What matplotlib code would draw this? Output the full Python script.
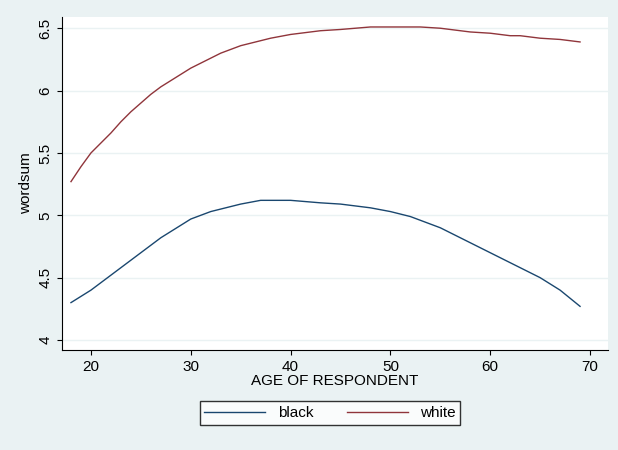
import matplotlib
matplotlib.use("Agg")
import matplotlib.pyplot as plt
plt.rcParams['font.family'] = ['Liberation Sans', 'DejaVu Sans']

ages = [18, 19, 20, 21, 22, 23, 24, 25, 26, 27, 28, 29, 30, 32, 33, 35, 37, 38, 40, 43, 45, 48, 50, 52, 53, 55, 57, 58, 60, 62, 63, 65, 67, 69]
black = [4.30, 4.35, 4.40, 4.46, 4.52, 4.58, 4.64, 4.70, 4.76, 4.82, 4.87, 4.92, 4.97, 5.03, 5.05, 5.09, 5.12, 5.12, 5.12, 5.10, 5.09, 5.06, 5.03, 4.99, 4.96, 4.90, 4.82, 4.78, 4.70, 4.62, 4.58, 4.50, 4.40, 4.27]
white = [5.27, 5.39, 5.50, 5.58, 5.66, 5.75, 5.83, 5.90, 5.97, 6.03, 6.08, 6.13, 6.18, 6.26, 6.30, 6.36, 6.40, 6.42, 6.45, 6.48, 6.49, 6.51, 6.51, 6.51, 6.51, 6.50, 6.48, 6.47, 6.46, 6.44, 6.44, 6.42, 6.41, 6.39]
xticks = [20, 30, 40, 50, 60, 70]
yticks = [4, 4.5, 5, 5.5, 6, 6.5]
ylabels = ["4", "4.5", "5", "5.5", "6", "6.5"]

bg = "#EAF2F3"
fig = plt.figure(figsize=(6.18, 4.5), dpi=100, facecolor=bg)
ax = fig.add_axes([62/618, 1-350/450, 546/618, 333/450])
ax.plot(ages, black, color="#1A476F", lw=1, label="black")
ax.plot(ages, white, color="#90353B", lw=1, label="white")
ax.set_xlim(17.1, 71.8)
ax.set_ylim(3.92, 6.59)
ax.set_xticks(xticks)
ax.set_yticks(yticks)
ax.set_yticklabels(ylabels, rotation=90, va="center")
ax.grid(axis="y", color=bg, lw=1)
ax.tick_params(labelsize=11)
for s in ["top", "right"]:
    ax.spines[s].set_visible(False)
ax.set_xlabel("AGE OF RESPONDENT", fontsize=11, labelpad=0)
ax.set_ylabel("wordsum", fontsize=11)
fig.legend(loc="center", bbox_to_anchor=(330/618, 1-413/450), ncol=2, frameon=True,
           fancybox=False, edgecolor="black", fontsize=11, handlelength=4,
           columnspacing=2.2, borderpad=0.3)
fig.savefig("out.png", facecolor=bg)
